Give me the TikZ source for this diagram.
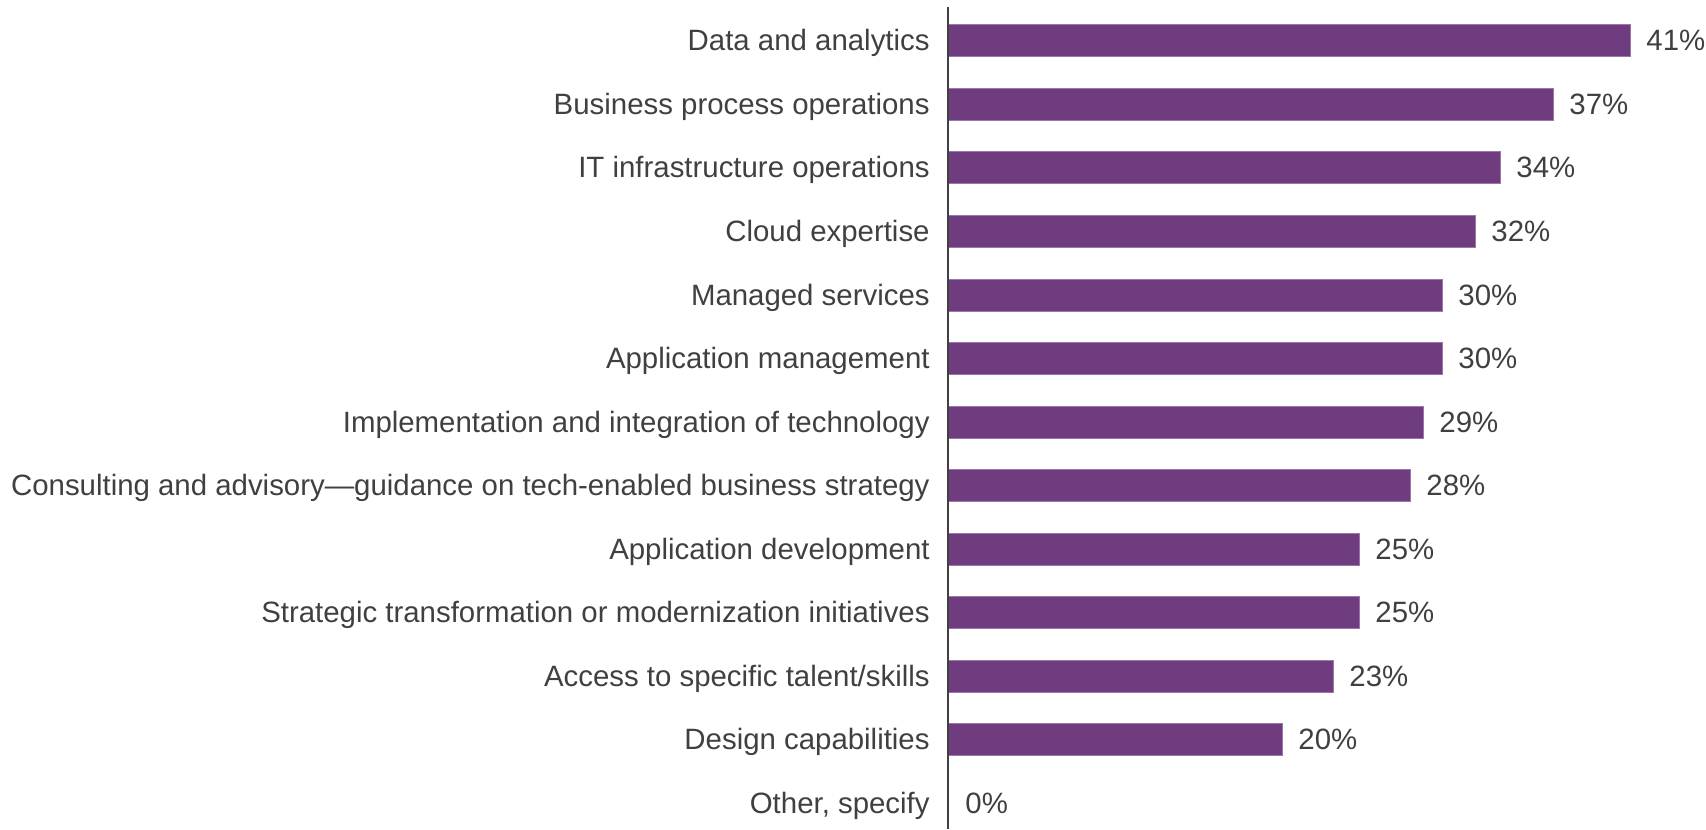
\documentclass[tikz,border=0pt]{standalone}
\usepackage{fontspec}
\setmainfont{Liberation Sans}
\definecolor{barpurple}{HTML}{703C80}
\definecolor{textgray}{HTML}{404040}
\tikzset{
  bar/.style={fill=barpurple, draw=barpurple!70!white, line width=0.4pt},
  cat/.style={anchor=base east, yshift=-5.25pt, text=textgray, inner sep=0pt, font=\fontsize{14.7}{17}\selectfont},
  val/.style={anchor=base west, yshift=-5.25pt, text=textgray, inner sep=0pt, font=\fontsize{14.7}{17}\selectfont}
}

\begin{document}
\begin{tikzpicture}[x=0.5pt,y=-0.5pt]
                        \useasboundingbox (0,0) rectangle (1706,829);
                        % bars
                        \draw[bar] (948,24) rectangle (1630,56);
                        \draw[bar] (948,88) rectangle (1553,120);
                        \draw[bar] (948,151) rectangle (1500,183);
                        \draw[bar] (948,215) rectangle (1475,247);
                        \draw[bar] (948,279) rectangle (1442,311);
                        \draw[bar] (948,342) rectangle (1442,374);
                        \draw[bar] (948,406) rectangle (1423,438);
                        \draw[bar] (948,469) rectangle (1410,501);
                        \draw[bar] (948,533) rectangle (1359,565);
                        \draw[bar] (948,596) rectangle (1359,628);
                        \draw[bar] (948,660) rectangle (1333,692);
                        \draw[bar] (948,723) rectangle (1282,755);
                        % axis
                        \draw[color=textgray, line width=1pt] (948,7) -- (948,829);
                        % categories
                        \node[cat] (cdata) at (930,40) {Data and analytics};
                        \node[cat] (cbpo) at (930,104) {Business process operations};
                        \node[cat] (cinfra) at (930,167) {IT infrastructure operations};
                        \node[cat] (ccloud) at (930,231) {Cloud expertise};
                        \node[cat] (cmanaged) at (930,295) {Managed services};
                        \node[cat] (cappmgmt) at (930,358) {Application management};
                        \node[cat] (cimpl) at (930,422) {Implementation and integration of technology};
                        \node[cat] (cconsult) at (930,485) {Consulting and advisory---guidance on tech-enabled business strategy};
                        \node[cat] (cappdev) at (930,549) {Application development};
                        \node[cat] (cstrat) at (930,612) {Strategic transformation or modernization initiatives};
                        \node[cat] (ctalent) at (930,676) {Access to specific talent/skills};
                        \node[cat] (cdesign) at (930,739) {Design capabilities};
                        \node[cat] (cother) at (930,803) {Other, specify};
                        % values
                        \node[val] (vdata) at (1646,40) {41\%};
                        \node[val] (vbpo) at (1569,104) {37\%};
                        \node[val] (vinfra) at (1516,167) {34\%};
                        \node[val] (vcloud) at (1491,231) {32\%};
                        \node[val] (vmanaged) at (1458,295) {30\%};
                        \node[val] (vappmgmt) at (1458,358) {30\%};
                        \node[val] (vimpl) at (1439,422) {29\%};
                        \node[val] (vconsult) at (1426,485) {28\%};
                        \node[val] (vappdev) at (1375,549) {25\%};
                        \node[val] (vstrat) at (1375,612) {25\%};
                        \node[val] (vtalent) at (1349,676) {23\%};
                        \node[val] (vdesign) at (1298,739) {20\%};
                        \node[val] (vother) at (965,803) {0\%};
                    \end{tikzpicture}
\end{document}
